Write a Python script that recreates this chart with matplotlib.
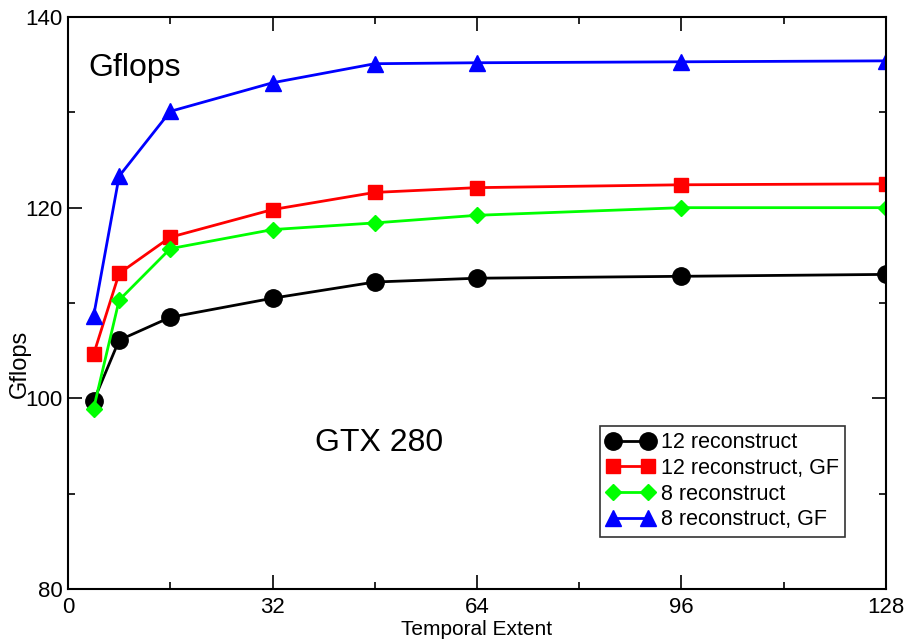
import matplotlib
matplotlib.use('Agg')
import matplotlib.pyplot as plt
from matplotlib.ticker import MultipleLocator

plt.rcParams['font.family'] = ['Liberation Sans', 'DejaVu Sans']

# temporal extent and Gflops per variant
extent = [4, 8, 16, 32, 48, 64, 96, 128]
rec12 = [99.7, 106.1, 108.5, 110.5, 112.2, 112.6, 112.8, 113.0]
rec12_gf = [104.6, 113.1, 116.9, 119.8, 121.6, 122.1, 122.4, 122.5]
rec8 = [98.9, 110.3, 115.7, 117.7, 118.4, 119.2, 120.0, 120.0]
rec8_gf = [108.6, 123.3, 130.1, 133.1, 135.1, 135.2, 135.3, 135.4]

fig = plt.figure(figsize=(9.06, 6.43), dpi=100)
ax = fig.add_axes([68 / 906, 1 - 589 / 643, 818 / 906, 572 / 643])

ax.plot(extent, rec12, '-o', color='black', lw=2, ms=12.5, label='12 reconstruct')
ax.plot(extent, rec12_gf, '-s', color='red', lw=2, ms=10, label='12 reconstruct, GF')
ax.plot(extent, rec8, '-D', color='#00ff00', lw=2, ms=8.5, label='8 reconstruct')
ax.plot(extent, rec8_gf, '-^', color='blue', lw=2, ms=11, label='8 reconstruct, GF')

ax.set_xlim(0, 128)
ax.set_ylim(80, 140)
ax.xaxis.set_major_locator(MultipleLocator(32))
ax.xaxis.set_minor_locator(MultipleLocator(16))
ax.yaxis.set_major_locator(MultipleLocator(20))
ax.yaxis.set_minor_locator(MultipleLocator(10))
ax.tick_params(which='both', direction='in', top=True, right=True, width=1.2)
ax.tick_params(which='major', length=10, labelsize=16)
ax.tick_params(axis='x', which='major', pad=6)
ax.tick_params(axis='y', which='major', pad=4)
ax.tick_params(which='minor', length=5)
for s in ax.spines.values():
    s.set_linewidth(1.5)

ax.set_xlabel('Temporal Extent', fontsize=15, labelpad=0)
ax.set_ylabel('Gflops', fontsize=17)
ax.xaxis.set_label_coords(0.5, -0.054)
ax.yaxis.set_label_coords(-0.045, 0.393)

ax.text(0.025, 0.91, 'Gflops', transform=ax.transAxes, fontsize=23, va='center')
ax.text(0.302, 0.255, 'GTX 280', transform=ax.transAxes, fontsize=23, va='center')

leg = ax.legend(loc='lower right', bbox_to_anchor=(0.95, 0.091), numpoints=2,
                fontsize=15.5, frameon=True, fancybox=False, edgecolor='black',
                borderpad=0.3, labelspacing=0.22, handlelength=2.2, handletextpad=0.3,
                borderaxespad=0)
leg.get_frame().set_linewidth(1.2)

fig.savefig('out.png', dpi=100)
